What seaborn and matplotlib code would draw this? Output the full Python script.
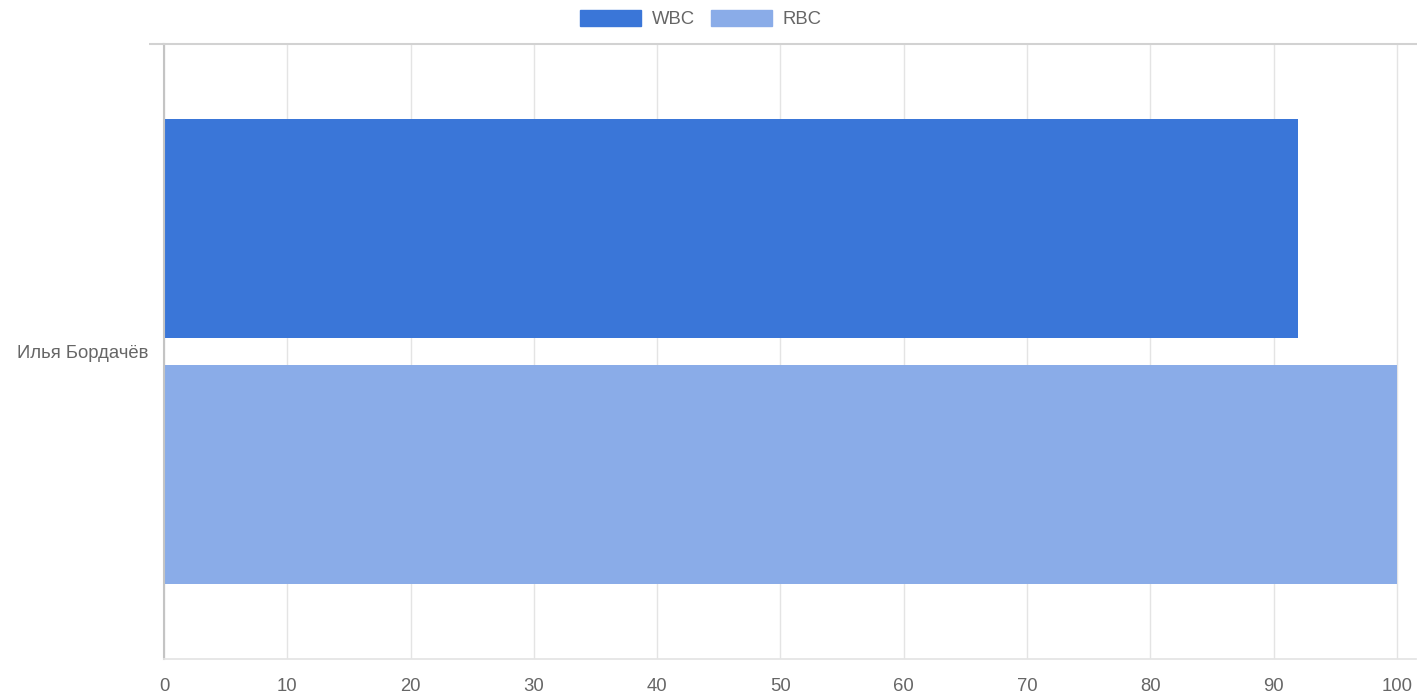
"""Horizontal grouped bar chart: WBC vs RBC for one person."""
import matplotlib
matplotlib.use("Agg")
import matplotlib.pyplot as plt
import pandas as pd
import seaborn as sns

NAMES = ["Илья Бордачёв"]
SERIES = ["WBC", "RBC"]
WBC_VALUES = [92]
RBC_VALUES = [100]
X_TICKS = list(range(0, 101, 10))

COLORS = {"WBC": "#3a76d8", "RBC": "#8aace8"}
TEXT_COLOR = "#666666"
GRID_COLOR = "#e4e4e4"
AXIS_COLOR = "#c4c4c4"
FONT_SIZE = 13.3


def build_frame() -> pd.DataFrame:
    rows = []
    for name, wbc, rbc in zip(NAMES, WBC_VALUES, RBC_VALUES):
        rows.append({"name": name, "series": "WBC", "value": wbc})
        rows.append({"name": name, "series": "RBC", "value": rbc})
    return pd.DataFrame(rows)


def main() -> None:
    sns.set_theme(style="white")
    plt.rcParams["font.family"] = ["Liberation Sans", "DejaVu Sans"]

    df = build_frame()
    fig = plt.figure(figsize=(14.17, 6.95), dpi=100)
    ax = fig.add_axes([164 / 1417, 1 - 659 / 695, (1416 - 164) / 1417, (659 - 44) / 695])

    sns.barplot(
        data=df, y="name", x="value", hue="series", hue_order=SERIES,
        palette=COLORS, orient="h", width=0.8, gap=0.11, linewidth=0,
        saturation=1, ax=ax, legend=False,
    )

    ax.set_xlim(0, 101.55)
    ax.set_ylim(0.5, -0.5)
    ax.set_xticks(X_TICKS)
    ax.set_xlabel("")
    ax.set_ylabel("")
    ax.grid(axis="x", color=GRID_COLOR, linewidth=1)
    ax.set_axisbelow(True)

    ax.tick_params(axis="x", length=10, width=1, color=GRID_COLOR, pad=4,
                   labelsize=FONT_SIZE, labelcolor=TEXT_COLOR)
    ax.tick_params(axis="y", length=0, pad=11, labelsize=FONT_SIZE, labelcolor=TEXT_COLOR)
    ax.set_yticks([-0.5], minor=True)
    ax.tick_params(axis="y", which="minor", length=10.8, width=1.5, color="#d2d2d2", left=True)

    for side in ["top", "bottom", "left"]:
        ax.spines[side].set_visible(True)
    ax.spines["right"].set_visible(False)
    ax.spines["top"].set_color("#d2d2d2")
    ax.spines["top"].set_linewidth(1.5)
    ax.spines["bottom"].set_color(GRID_COLOR)
    ax.spines["left"].set_color(AXIS_COLOR)
    ax.spines["left"].set_linewidth(1.5)

    handles = [plt.Rectangle((0, 0), 1, 1, color=COLORS[s]) for s in SERIES]
    fig.legend(
        handles, SERIES, loc="center", bbox_to_anchor=(701 / 1417, 1 - 19 / 695),
        ncol=2, frameon=False, fontsize=FONT_SIZE, labelcolor=TEXT_COLOR,
        handlelength=3.3, handleheight=0.95, handletextpad=0.6, columnspacing=0.85,
    )

    fig.savefig("out.png", dpi=100)
    plt.close(fig)


if __name__ == "__main__":
    main()
